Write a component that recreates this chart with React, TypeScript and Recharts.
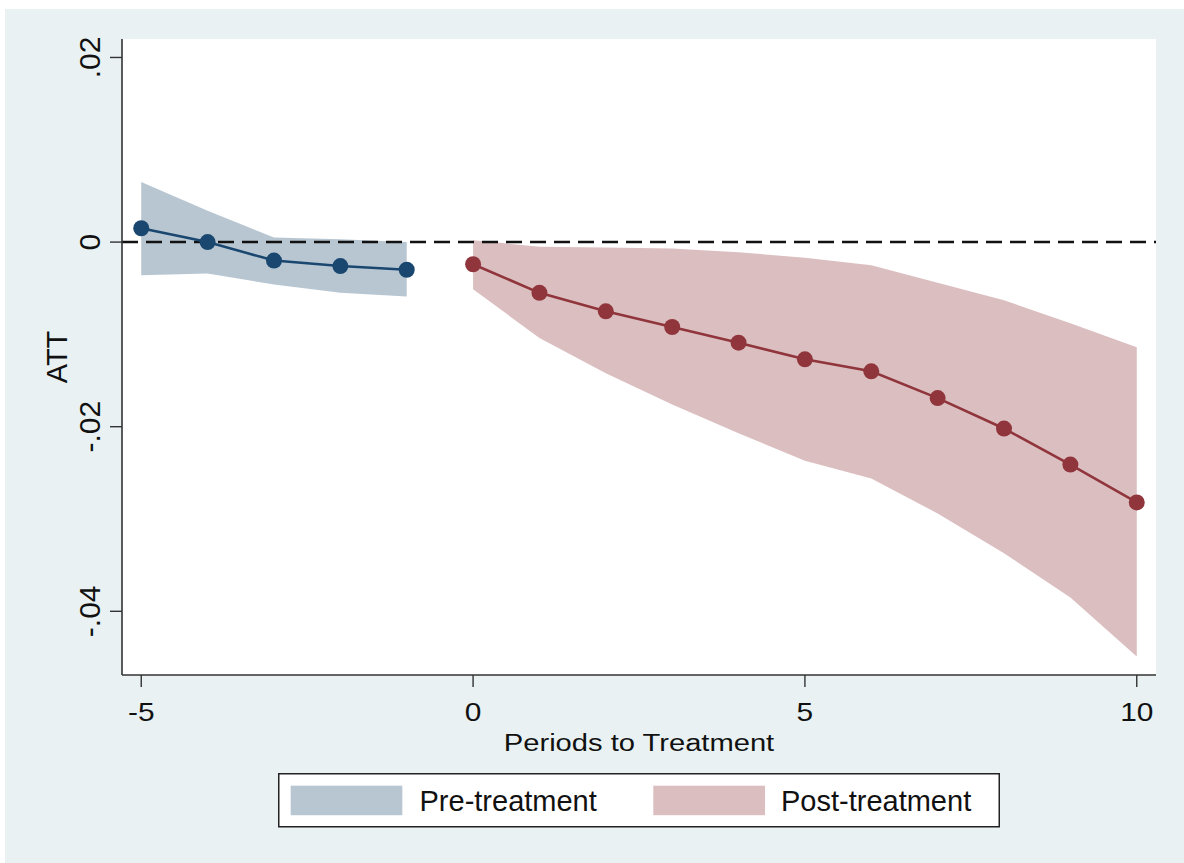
import React from 'react';
import {
  ComposedChart, Area, Line, XAxis, YAxis, CartesianGrid, ReferenceLine, Legend, Label,
} from 'recharts';

// ---- data ----
const prePeriods = [-5, -4, -3, -2, -1];
const preEst = [0.0015, 0.0, -0.002, -0.0026, -0.003];
const preLow = [-0.0036, -0.0034, -0.0046, -0.0055, -0.0059];
const preHigh = [0.0065, 0.0034, 0.0005, 0.0003, 0.0];

const postPeriods = [0, 1, 2, 3, 4, 5, 6, 7, 8, 9, 10];
const postEst = [-0.0024, -0.0055, -0.0075, -0.0092, -0.0109, -0.0127, -0.014, -0.0169, -0.0202, -0.0241, -0.0282];
const postLow = [-0.0051, -0.0104, -0.0142, -0.0176, -0.0207, -0.0237, -0.0256, -0.0294, -0.0337, -0.0385, -0.0449];
const postHigh = [0.0002, -0.0005, -0.0006, -0.0007, -0.0011, -0.0017, -0.0025, -0.0044, -0.0063, -0.0088, -0.0114];

const xTicks = [-5, 0, 5, 10];
const xTickLabels = ['-5', '0', '5', '10'];
const yTicks = [-0.04, -0.02, 0, 0.02];
const yTickLabels = ['-.04', '-.02', '0', '.02'];
const gridValues = [-0.04, -0.02, 0];

const seriesNames = ['Pre-treatment', 'Post-treatment'];
const xTitle = 'Periods to Treatment';
const yTitle = 'ATT';

// ---- styles ----
const NAVY = '#1A476F';
const MAROON = '#90353B';
const BG = '#E9F1F3';
const FONT = '"Liberation Sans", Arial, sans-serif';
const TEXT = '#111';

type Row = { t: number; pre?: number; preBand?: [number, number]; post?: number; postBand?: [number, number] };

const data: Row[] = [];
prePeriods.forEach((t, i) => {
  data.push({ t, pre: preEst[i], preBand: [preLow[i], preHigh[i]] });
});
postPeriods.forEach((t, i) => {
  data.push({ t, post: postEst[i], postBand: [postLow[i], postHigh[i]] });
});

const XTick = (props: any) => {
  const { x, payload } = props;
  const idx = xTicks.indexOf(payload.value);
  const label = idx >= 0 ? xTickLabels[idx] : String(payload.value);
  return (
    <text
      transform={`translate(${x} 720.5) scale(1.15 1)`}
      textAnchor="middle"
      fontSize={26}
      fontFamily={FONT}
      fill={TEXT}
    >
      {label}
    </text>
  );
};

const YTick = (props: any) => {
  const { y, payload } = props;
  const idx = yTicks.findIndex((v) => Math.abs(v - payload.value) < 1e-9);
  const label = idx >= 0 ? yTickLabels[idx] : String(payload.value);
  return (
    <text
      transform={`translate(99.5 ${y}) rotate(-90)`}
      textAnchor="middle"
      fontSize={30}
      fontFamily={FONT}
      fill={TEXT}
    >
      {label}
    </text>
  );
};

const XTitle = (props: any) => {
  const vb = props.viewBox || { x: 122, width: 1034 };
  const cx = vb.x + vb.width / 2;
  return (
    <text
      transform={`translate(${cx} 750.5) scale(1.18 1)`}
      textAnchor="middle"
      fontSize={24.7}
      fontFamily={FONT}
      fill={TEXT}
    >
      {xTitle}
    </text>
  );
};

const YTitle = (props: any) => {
  const vb = props.viewBox || { y: 39, height: 636 };
  const cy = vb.y + vb.height / 2;
  return (
    <text
      transform={`translate(66.7 ${cy}) rotate(-90)`}
      textAnchor="middle"
      fontSize={29}
      fontFamily={FONT}
      fill={TEXT}
    >
      {yTitle}
    </text>
  );
};

const LegendBox = () => (
  <svg width={722} height={55} style={{ display: 'block' }}>
    <rect x={0.75} y={0.75} width={720.5} height={53} fill="#fff" stroke="#222" strokeWidth={1.5} />
    <rect x={12.7} y={12.7} width={111.6} height={29.5} fill={NAVY} fillOpacity={0.31} />
    <text x={141.5} y={37.7} fontSize={29} fontFamily={FONT} fill={TEXT}>{seriesNames[0]}</text>
    <rect x={375.3} y={12.7} width={111.7} height={29.5} fill={MAROON} fillOpacity={0.32} />
    <text x={503} y={37.7} fontSize={29} fontFamily={FONT} fill={TEXT}>{seriesNames[1]}</text>
  </svg>
);

export default function App() {
  return (
    <div style={{ position: 'absolute', left: 0, top: 0, width: 1184, height: 863, background: '#fff', overflow: 'hidden' }}>
      <div style={{ position: 'absolute', left: 5, top: 9, width: 1179, height: 854, background: BG }} />
      <div style={{ position: 'absolute', left: 0, top: 0 }}>
        <ComposedChart
          width={1184}
          height={863}
          data={data}
          margin={{ top: 39, right: 28, bottom: 128, left: 0 }}
        >
          <rect x={122} y={39} width={1034} height={636} fill="#fff" />
          <CartesianGrid
            horizontal
            vertical={false}
            horizontalValues={gridValues}
            stroke="#E4EDF0"
            strokeWidth={1.5}
            fill="#fff"
          />
          <XAxis
            type="number"
            dataKey="t"
            domain={[-5.29, 10.29]}
            ticks={xTicks}
            allowDataOverflow
            tickSize={12}
            tick={<XTick />}
            axisLine={{ stroke: '#333', strokeWidth: 1.6 }}
            tickLine={{ stroke: '#333', strokeWidth: 1.4 }}
            height={60}
            interval={0}
          >
            <Label content={<XTitle />} />
          </XAxis>
          <YAxis
            type="number"
            domain={[-0.0469, 0.022]}
            ticks={yTicks}
            allowDataOverflow
            tickSize={12}
            tick={<YTick />}
            axisLine={{ stroke: '#333', strokeWidth: 1.6 }}
            tickLine={{ stroke: '#333', strokeWidth: 1.4 }}
            width={122}
            interval={0}
          >
            <Label content={<YTitle />} />
          </YAxis>
          <Area
            type="linear"
            dataKey="preBand"
            stroke="none"
            fill={NAVY}
            fillOpacity={0.31}
            isAnimationActive={false}
            activeDot={false}
            dot={false}
            legendType="rect"
            name={seriesNames[0]}
          />
          <Area
            type="linear"
            dataKey="postBand"
            stroke="none"
            fill={MAROON}
            fillOpacity={0.32}
            isAnimationActive={false}
            activeDot={false}
            dot={false}
            legendType="rect"
            name={seriesNames[1]}
          />
          <ReferenceLine y={0} stroke="#111" strokeWidth={2.5} strokeDasharray="16 8" />
          <Line
            type="linear"
            dataKey="pre"
            stroke={NAVY}
            strokeWidth={2.6}
            dot={{ r: 8, fill: NAVY, stroke: 'none' }}
            activeDot={false}
            isAnimationActive={false}
            legendType="none"
          />
          <Line
            type="linear"
            dataKey="post"
            stroke={MAROON}
            strokeWidth={2.6}
            dot={{ r: 8, fill: MAROON, stroke: 'none' }}
            activeDot={false}
            isAnimationActive={false}
            legendType="none"
          />
          <Legend
            layout="horizontal"
            verticalAlign="middle"
            align="center"
            content={<LegendBox />}
            wrapperStyle={{ position: 'absolute', left: 278, top: 773, width: 722, height: 55, margin: 0, padding: 0 }}
          />
        </ComposedChart>
      </div>
    </div>
  );
}
